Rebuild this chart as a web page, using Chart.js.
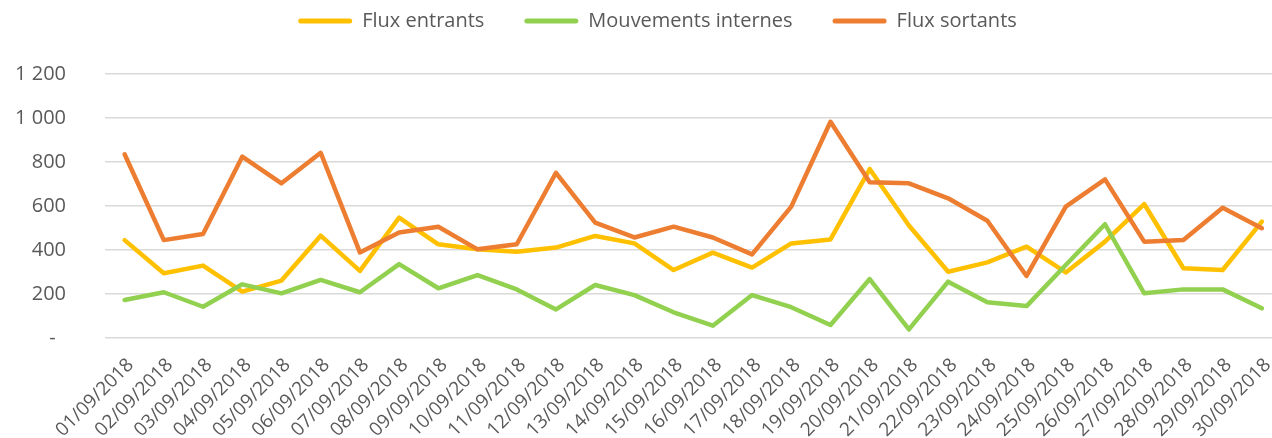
<!DOCTYPE html>
<html>
<head>
<meta charset="utf-8">
<script src="https://cdn.jsdelivr.net/npm/chart.js@4"></script>
<style>
  html, body { margin: 0; padding: 0; overflow: hidden; background: #fff; }
  #wrap { width: 1294px; height: 438px; }
</style>
</head>
<body>
<div id="wrap"><canvas id="fluxChart" width="1294" height="438"></canvas></div>
<script>
// dates de septembre 2018
const days = ['01/09/2018', '02/09/2018', '03/09/2018', '04/09/2018', '05/09/2018', '06/09/2018',
    '07/09/2018', '08/09/2018', '09/09/2018', '10/09/2018', '11/09/2018', '12/09/2018',
    '13/09/2018', '14/09/2018', '15/09/2018', '16/09/2018', '17/09/2018', '18/09/2018',
    '19/09/2018', '20/09/2018', '21/09/2018', '22/09/2018', '23/09/2018', '24/09/2018',
    '25/09/2018', '26/09/2018', '27/09/2018', '28/09/2018', '29/09/2018', '30/09/2018'];

const fluxEntrants = [445, 294, 329, 211, 261, 465, 305, 547, 426, 403, 392, 411, 464, 430, 309,
    388, 320, 430, 448, 768, 511, 301, 344, 415, 298, 438, 609, 317, 309, 529];
const mouvementsInternes = [173, 208, 142, 244, 203, 264, 208, 336, 226, 286, 221, 130, 241, 195, 117,
    56, 195, 140, 59, 268, 39, 256, 162, 145, 332, 517, 203, 221, 221, 135];
const fluxSortants = [835, 445, 473, 824, 703, 842, 389, 480, 506, 403, 426, 751, 524, 457, 506,
    457, 380, 597, 983, 708, 703, 635, 533, 282, 597, 721, 438, 445, 592, 499];

const yTicks = [0, 200, 400, 600, 800, 1000, 1200];

const textColor = '#595959';
const fontFamily = '"Open Sans", "Liberation Sans", sans-serif';

function serie(label, data, color, order) {
    return {
        label: label,
        data: data,
        borderColor: color,
        backgroundColor: color,
        borderWidth: 4.5,
        borderJoinStyle: 'round',
        borderCapStyle: 'round',
        pointRadius: 0,
        tension: 0,
        order: order
    };
}

// legend height + slight horizontal shift like the excel export
const legendTweak = {
    id: 'legendTweak',
    beforeInit(chart) {
        const fit = chart.legend.fit;
        chart.legend.fit = function () {
            fit.call(this);
            this.height = 103;
        };
    },
    afterLayout(chart) {
        chart.legend.left += 11;
        chart.legend.right += 11;
    }
};

const ctx = document.getElementById('fluxChart').getContext('2d');
new Chart(ctx, {
    type: 'line',
    data: {
        labels: days,
        datasets: [
            serie('Flux entrants', fluxEntrants, '#FFC000', 3),
            serie('Mouvements internes', mouvementsInternes, '#92D050', 2),
            serie('Flux sortants', fluxSortants, '#ED7D31', 1)
        ]
    },
    options: {
        responsive: false,
        animation: false,
        layout: { padding: { top: -29, right: 1, left: 0, bottom: 0 } },
        plugins: {
            tooltip: { enabled: false },
            legend: {
                position: 'top',
                labels: {
                    font: { family: fontFamily, size: 20 },
                    color: textColor,
                    boxWidth: 54,
                    boxHeight: 5,
                    padding: 40,
                    useBorderRadius: true,
                    borderRadius: 2.5,
                    sort: (a, b) => a.datasetIndex - b.datasetIndex,
                    generateLabels(chart) {
                        const items = Chart.defaults.plugins.legend.labels.generateLabels(chart);
                        items.forEach(it => { it.lineWidth = 0; });
                        return items;
                    }
                }
            }
        },
        scales: {
            x: {
                offset: true,
                grid: { display: false, drawTicks: false, offset: true },
                border: { display: false },
                ticks: {
                    font: { family: fontFamily, size: 19 },
                    color: textColor,
                    autoSkip: false,
                    minRotation: 45,
                    maxRotation: 45,
                    padding: 16,
                    labelOffset: 6
                },
                afterFit(scale) { scale.height = 100; }
            },
            y: {
                min: 0,
                max: 1200,
                grid: { color: '#d9d9d9', lineWidth: 1.5, drawTicks: false },
                border: { display: false },
                afterBuildTicks(scale) {
                    scale.ticks = yTicks.map(v => ({ value: v }));
                },
                ticks: {
                    font: { family: fontFamily, size: 20 },
                    color: textColor,
                    padding: 39,
                    callback: v => v === 0 ? '-  ' : v.toLocaleString('en-US').replace(',', ' ')
                },
                afterFit(scale) { scale.width = 105; }
            }
        }
    },
    plugins: [legendTweak]
});
</script>
</body>
</html>
